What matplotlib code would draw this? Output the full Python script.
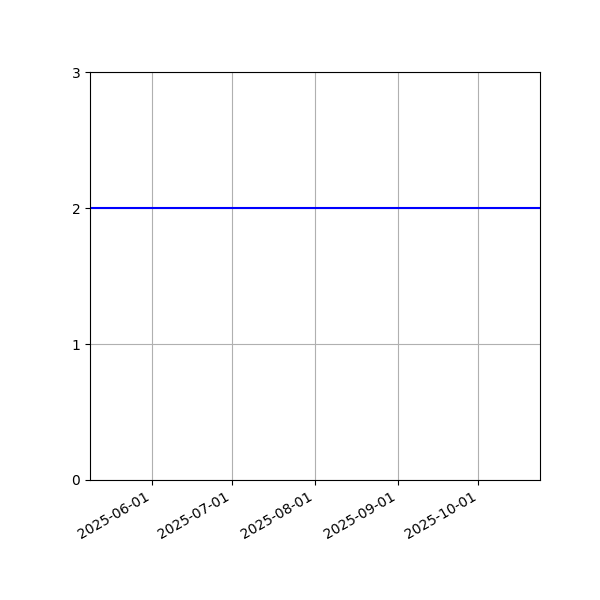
import matplotlib
matplotlib.use("Agg")
import matplotlib.pyplot as plt
import matplotlib.dates as mdates
import numpy as np

dates = np.array(["2025-05-09", "2025-10-24"], dtype="datetime64[D]")
values = [2, 2]
yticks = [0, 1, 2, 3]

fig, ax = plt.subplots(figsize=(6, 6), dpi=100)
ax.plot(dates, values, color="blue", linewidth=1.5)
ax.set_xlim(dates[0], dates[-1])
ax.set_ylim(0, 3)
ax.set_yticks(yticks)
ax.xaxis.set_major_locator(mdates.MonthLocator())
ax.xaxis.set_major_formatter(mdates.DateFormatter("%Y-%m-%d"))
ax.grid(True)
fig.autofmt_xdate()
fig.subplots_adjust(left=0.15, right=0.9, top=0.88, bottom=0.2)
fig.savefig("out.png")
